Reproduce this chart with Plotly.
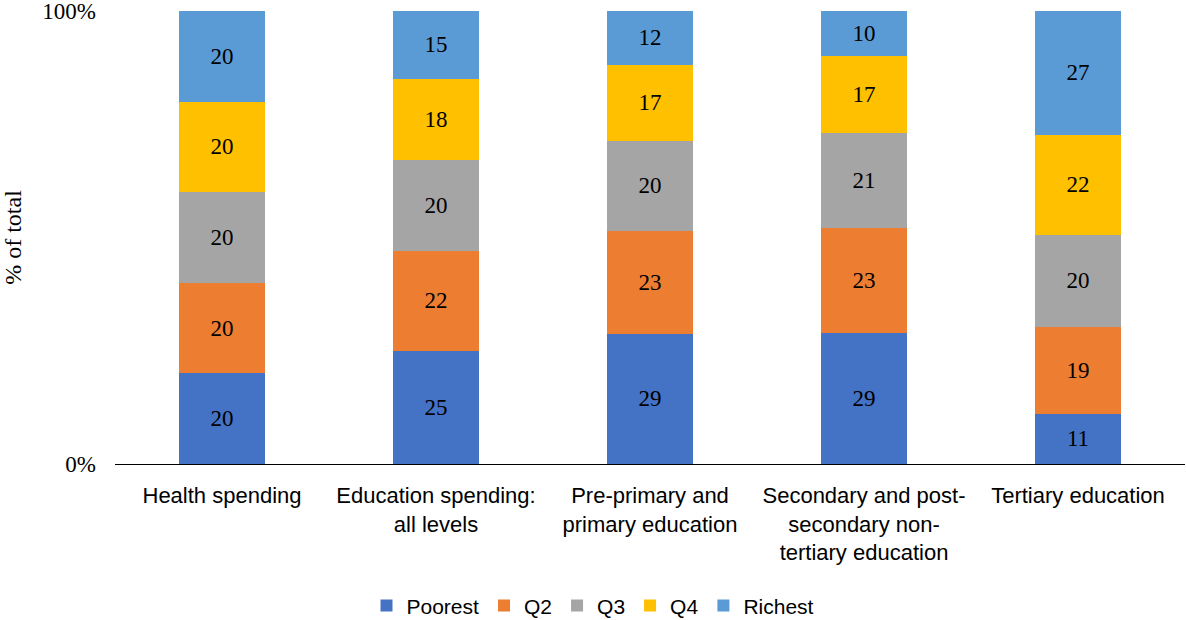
import plotly.graph_objects as go

categories = [
    "Health spending",
    "Education spending:<br>all levels",
    "Pre-primary and<br>primary education",
    "Secondary and post-<br>secondary non-<br>tertiary education",
    "Tertiary education",
]
quintiles = ["Poorest", "Q2", "Q3", "Q4", "Richest"]
poorest = [20, 25, 29, 29, 11]
q2 = [20, 22, 23, 23, 19]
q3 = [20, 20, 20, 21, 20]
q4 = [20, 18, 17, 17, 22]
richest = [20, 15, 12, 10, 27]
series = [poorest, q2, q3, q4, richest]
colors = ["#4472C4", "#ED7D31", "#A5A5A5", "#FFC000", "#5B9BD5"]

serif = "Liberation Serif"
sans = "Liberation Sans"

fig = go.Figure()
for name, vals, col in zip(quintiles, series, colors):
    fig.add_trace(go.Bar(
        name=name,
        x=categories,
        y=vals,
        marker=dict(color=col, line=dict(width=0)),
        text=[str(v) for v in vals],
        textposition="inside",
        insidetextanchor="middle",
        textangle=0,
        textfont=dict(family=serif, size=23, color="#000000"),
        hoverinfo="name+y",
    ))

fig.update_layout(
    barmode="stack",
    barnorm="percent",
    bargap=0.6,
    width=1186,
    height=620,
    margin=dict(l=115, r=1, t=11, b=156, autoexpand=False),
    plot_bgcolor="white",
    paper_bgcolor="white",
    legend=dict(
        orientation="h",
        xref="container", yref="container",
        x=0.5, xanchor="center",
        y=0.023, yanchor="middle",
        font=dict(family=sans, size=21, color="#000000"),
        traceorder="normal",
        itemwidth=30,
    ),
    xaxis=dict(
        automargin=False,
        tickfont=dict(family=sans, size=22, color="#000000"),
        showline=False,
        ticks="",
        ticklabelstandoff=16,
    ),
    yaxis=dict(
        automargin=False,
        range=[0, 100],
        tickvals=[0, 100],
        ticktext=["0%", "100%"],
        ticklabeloverflow="allow",
        tickfont=dict(family=serif, size=23, color="#000000"),
        showgrid=True,
        gridcolor="#000000",
        gridwidth=1,
        zeroline=True,
        zerolinecolor="#000000",
        zerolinewidth=1,
        ticklabelstandoff=18,
        title=dict(text="% of total", font=dict(family=serif, size=24, color="#000000"), standoff=40),
    ),
)

fig.write_html("out.html")
